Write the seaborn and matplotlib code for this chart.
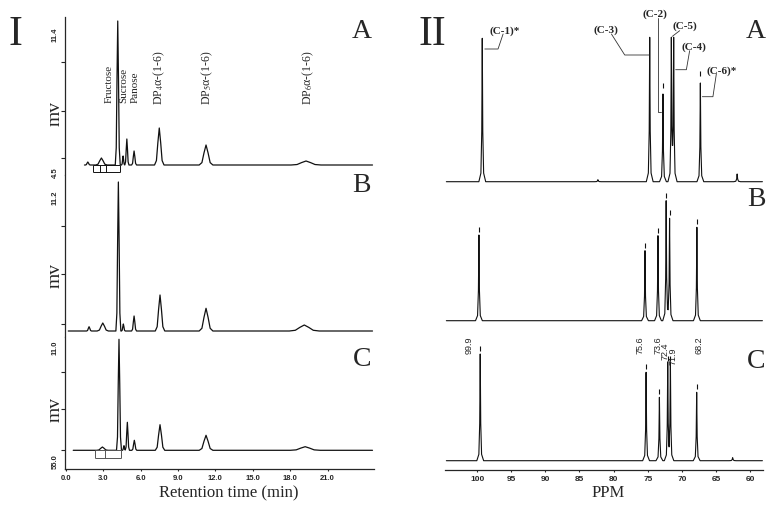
import numpy as np
import matplotlib.pyplot as plt
import seaborn as sns

# ---- HPLC chromatograms (panel I): retention time (min), height above baseline, half width
hplc_a_time = [1.77, 2.86, 4.17, 4.60, 4.90, 5.48, 7.50, 11.25, 19.27]
hplc_a_height = [3, 7, 144, 9, 26, 14, 37, 20, 4]
hplc_a_width = [0.2, 0.45, 0.2, 0.13, 0.17, 0.2, 0.38, 0.55, 1.2]

hplc_b_time = [1.87, 2.97, 4.22, 4.62, 5.48, 7.56, 11.25, 19.13]
hplc_b_height = [4.3, 8, 149, 7, 15, 36, 22.7, 6]
hplc_b_width = [0.2, 0.45, 0.2, 0.15, 0.2, 0.38, 0.55, 1.2]

hplc_c_time = [2.94, 4.27, 4.67, 4.94, 5.50, 7.56, 11.25, 19.20]
hplc_c_height = [3.3, 111, 4.6, 28, 10, 25.6, 15, 3.6]
hplc_c_width = [0.45, 0.2, 0.13, 0.17, 0.2, 0.38, 0.55, 1.2]

hplc_start = [1.5, 0.2, 0.6]
hplc_end = 24.6

peak_names = ["Fructose", "Sucrose", "Panose"]
peak_name_time = [3.5, 4.62, 5.55]
dp_names = [r"DP$_4$α-(1-6)", r"DP$_5$α-(1-6)", r"DP$_6$α-(1-6)"]
dp_name_time = [7.48, 11.33, 19.43]

# integration windows drawn under the baseline (min)
integ_a = [2.15, 2.75, 3.23, 4.35]
integ_c = [2.35, 3.15, 4.41]

time_ticks = [0, 3, 6, 9, 12, 15, 18, 21]

# ---- 13C NMR spectra (panel II): ppm, intensity
nmr_a_ppm = [99.24, 82.3, 74.71, 72.77, 71.54, 71.20, 67.29, 61.9]
nmr_a_int = [143.4, 2, 144.4, 87.7, 140, 140, 98.7, 7.7]
nmr_b_ppm = [99.73, 75.4, 73.5, 72.3, 71.8, 67.8]
nmr_b_int = [85.7, 70, 85, 120, 102.4, 93.4]
nmr_c_ppm = [99.54, 75.24, 73.29, 72.07, 71.68, 67.83, 62.56]
nmr_c_int = [106.7, 88.4, 63.4, 96.7, 96.7, 68.4, 3]

shift_labels = ["99.9", "75.6", "73.6", "72.4", "71.9", "68.2"]
shift_label_x = [101.1, 76.18, 73.55, 72.45, 71.35, 67.5]
shift_label_top = [125, 125, 125, 118.7, 113.7, 125]

carbon_labels = ["(C-1)*", "(C-3)", "(C-2)", "(C-5)", "(C-4)", "(C-6)*"]
carbon_text_xy = [(95.94, 152), (81.05, 152.7), (73.88, 168.7), (69.59, 156.7), (68.27, 136), (64.22, 112)]
carbon_leaders = [
    [(96.19, 147.7), (96.93, 132.7), (98.87, 132.7)],
    [(80.32, 147.7), (78.37, 126.7), (74.82, 126.7)],
    [(73.50, 163.4), (73.50, 69.4), (73.0, 69.4)],
    [(70.32, 151), (71.39, 145.4)],
    [(68.86, 131), (69.34, 112), (70.91, 112)],
    [(64.95, 107.7), (65.45, 85), (67.0, 85)],
]
ppm_ticks = [100, 95, 90, 85, 80, 75, 70, 65, 60]

# peak shapes
HPLC_SX = [-1, -0.6, -0.3, 0, 0.3, 0.6, 1]
HPLC_SY = [0, 0.12, 0.6, 1, 0.6, 0.12, 0]
NMR_SX = [-1, -0.4, -0.15, 0, 0.15, 0.4, 1]
NMR_SY = [0, 0.06, 0.35, 1, 0.35, 0.06, 0]


def trace(start, end, centers, heights, widths, sx, sy):
    lo, hi = min(start, end), max(start, end)
    knots = [lo, hi]
    for c, w in zip(centers, widths):
        knots += [c + s * w for s in sx]
    xs = np.array(sorted(k for k in knots if lo <= k <= hi))
    ys = np.zeros_like(xs)
    for c, h, w in zip(centers, heights, widths):
        ys += h * np.interp(xs, [c + s * w for s in sx], sy, left=0, right=0)
    return xs, ys


sns.set_style("ticks")
plt.rcParams['font.family'] = ['Liberation Serif', 'DejaVu Serif']
plt.rcParams['mathtext.fontset'] = 'stix'

W, H = 778, 510
fig = plt.figure(figsize=(W / 100, H / 100), dpi=100)


def px_axes(x0, y0, x1, y1):
    return fig.add_axes([x0 / W, 1 - y1 / H, (x1 - x0) / W, (y1 - y0) / H])


def ftext(x, y, s, **kw):
    fig.text(x / W, 1 - y / H, s, **kw)


ink = '#111111'
tick_font = dict(family=['Liberation Sans'], weight='bold', size=5.5)

# ---------------- panel I ----------------
hplc = [
    (hplc_a_time, hplc_a_height, hplc_a_width, (18, 176), (-10, 148), [7, 54, 103]),
    (hplc_b_time, hplc_b_height, hplc_b_width, (176, 338), (-6, 156), [7, 57, 105]),
    (hplc_c_time, hplc_c_height, hplc_c_width, (338, 470), (-18.7, 113.3), [0, 41.3, 78.3]),
]
left_axes = []
for i, (t, h, w, (y0, y1), ylim, yt) in enumerate(hplc):
    ax = px_axes(64.5, y0, 374, y1)
    xs, ys = trace(hplc_start[i], hplc_end, t, h, w, HPLC_SX, HPLC_SY)
    sns.lineplot(x=xs, y=ys, ax=ax, sort=False, estimator=None, color=ink, linewidth=0.9)
    ax.set_xlim(-0.1, 24.72)
    ax.set_ylim(*ylim)
    ax.set_yticks(yt)
    ax.set_yticklabels([])
    ax.tick_params(axis='y', length=3, width=0.8, direction='out')
    for sp in ['top', 'right']:
        ax.spines[sp].set_visible(False)
    ax.spines['left'].set_linewidth(0.9)
    if i < 2:
        ax.spines['bottom'].set_visible(False)
        ax.set_xticks([])
    else:
        ax.set_xticks(time_ticks)
        ax.set_xticklabels([f"{v:.1f}" for v in time_ticks], **tick_font)
        ax.tick_params(axis='x', length=1.5, width=0.8, pad=2)
        ax.spines['bottom'].set_linewidth(0.9)
    ax.set_xlabel('')
    ax.set_ylabel('')
    left_axes.append(ax)

ax_a, ax_b, ax_c = left_axes
# integration marks
ax_a.hlines([0, -7], integ_a[0], integ_a[-1], color=ink, linewidth=0.7)
ax_a.vlines(integ_a, -7, 0, color=ink, linewidth=0.7)
ax_c.hlines([0, -7.7], integ_c[0], integ_c[-1], color='#555555', linewidth=0.7)
ax_c.vlines(integ_c, -7.7, 0, color='#555555', linewidth=0.7)

for name, x in zip(peak_names, peak_name_time):
    ax_a.text(x, 63, name, rotation=90, ha='center', va='bottom', fontsize=8)
for name, x in zip(dp_names, dp_name_time):
    ax_a.text(x, 116, name, rotation=90, ha='center', va='top', fontsize=8.5)

for (x, y, s) in [(55, 35, '11.4'), (55, 173, '4.5'), (55, 198, '11.2'),
                  (55, 348, '11.0'), (55, 462, '55.0')]:
    ftext(x, y, s, rotation=90, ha='center', va='center', **tick_font)
for y in [114, 276, 409]:
    ftext(55, y, 'mv', rotation=90, ha='center', va='center', fontsize=14)
for (x, y, s) in [(362, 31, 'A'), (361, 186, 'B'), (362, 359, 'C')]:
    ftext(x, y, s, ha='center', va='center', fontsize=20)
ftext(15, 35, 'I', ha='center', va='center', fontsize=30)
ftext(229, 493, 'Retention time (min)', ha='center', va='center', fontsize=12)

# ---------------- panel II ----------------
nmr = [
    (nmr_a_ppm, nmr_a_int, (5, 190), (-7.3, 177.7)),
    (nmr_b_ppm, nmr_b_int, (190, 330), (-8.3, 131.7)),
    (nmr_c_ppm, nmr_c_int, (330, 470.7), (-9, 131.7)),
]
right_axes = []
for i, (p, h, (y0, y1), ylim) in enumerate(nmr):
    ax = px_axes(445, y0, 763.3, y1)
    xs, ys = trace(104.5, 58.2, p, h, [0.5] * len(p), NMR_SX, NMR_SY)
    sns.lineplot(x=xs, y=ys, ax=ax, sort=False, estimator=None, color=ink, linewidth=0.8)
    ax.set_xlim(104.7, 58.07)
    ax.set_ylim(*ylim)
    ax.set_yticks([])
    for sp in ['top', 'right', 'left']:
        ax.spines[sp].set_visible(False)
    if i < 2:
        ax.spines['bottom'].set_visible(False)
        ax.set_xticks([])
    else:
        ax.set_xticks(ppm_ticks)
        ax.set_xticklabels([str(v) for v in ppm_ticks], family=['Liberation Sans'],
                           weight='bold', size=6)
        ax.tick_params(axis='x', length=1.5, width=0.8, pad=2)
        ax.spines['bottom'].set_linewidth(0.9)
    ax.set_xlabel('')
    ax.set_ylabel('')
    right_axes.append(ax)

nx_a, nx_b, nx_c = right_axes
# peak-picking marks
for ax, p, h in [(nx_b, nmr_b_ppm, nmr_b_int), (nx_c, nmr_c_ppm[:6], nmr_c_int[:6])]:
    ax.vlines(p, [v + 3 for v in h], [v + 8 for v in h], color=ink, linewidth=0.8)
nx_a.vlines([nmr_a_ppm[3], nmr_a_ppm[6]], [nmr_a_int[3] + 6, nmr_a_int[6] + 7],
            [nmr_a_int[3] + 11, nmr_a_int[6] + 12], color=ink, linewidth=0.8)

for s, x, top in zip(shift_labels, shift_label_x, shift_label_top):
    nx_c.text(x, top, s, rotation=90, ha='center', va='top',
              family=['Liberation Sans'], fontsize=6.5)

for s, (tx, ty), lead in zip(carbon_labels, carbon_text_xy, carbon_leaders):
    nx_a.text(tx, ty, s, ha='center', va='center', fontsize=8, fontweight='bold')
    lx, ly = zip(*lead)
    nx_a.plot(lx, ly, color='#333333', linewidth=0.6)

for (x, y, s) in [(756, 32, 'A'), (756, 200, 'B'), (756, 361, 'C')]:
    ftext(x, y, s, ha='center', va='center', fontsize=20)
ftext(432, 35, 'II', ha='center', va='center', fontsize=30)
ftext(608, 493, 'PPM', ha='center', va='center', fontsize=12)

plt.savefig('out.png', dpi=100)
